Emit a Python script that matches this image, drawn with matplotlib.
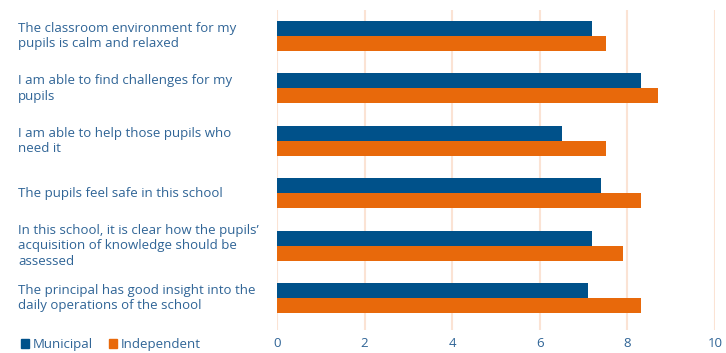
import matplotlib.pyplot as plt
import matplotlib.transforms as mtransforms
from matplotlib.patches import Patch
import numpy as np

plt.rcParams['font.family'] = ['Open Sans', 'DejaVu Sans']

statements = [
    'The classroom environment for my\npupils is calm and relaxed',
    'I am able to find challenges for my\npupils',
    'I am able to help those pupils who\nneed it',
    'The pupils feel safe in this school',
    "In this school, it is clear how the pupils\u2019\nacquisition of knowledge should be\nassessed",
    'The principal has good insight into the\ndaily operations of the school',
]
municipal = [7.2, 8.3, 6.5, 7.4, 7.2, 7.1]
independent = [7.5, 8.7, 7.5, 8.3, 7.9, 8.3]
xticks = [0, 2, 4, 6, 8, 10]

blue = '#00518A'
orange = '#E8690B'
text_col = '#2F6496'
grid_col = '#FBE3D4'

fig = plt.figure(figsize=(7.26, 3.53), dpi=100)
ax = fig.add_axes([277 / 726, 1 - 330 / 353, 438 / 726, 320 / 353])

y = np.arange(len(statements))
h = 0.287
ax.barh(y - h / 2, municipal, height=h, color=blue, zorder=3)
ax.barh(y + h / 2, independent, height=h, color=orange, zorder=3)

ax.set_xlim(0, 10)
ax.set_ylim(5.61, -0.496)
ax.set_xticks(xticks)
ax.set_xticklabels([str(t) for t in xticks])
ax.set_yticks([])
ax.tick_params(axis='x', length=0, pad=5, labelsize=9.5, labelcolor=text_col)
for s in ax.spines.values():
    s.set_visible(False)
ax.grid(axis='x', color=grid_col, linewidth=1.5, zorder=0)

trans = mtransforms.blended_transform_factory(fig.transFigure, ax.transData)
for yi, lab in zip(y, statements):
    ax.text(18 / 726, yi, lab, transform=trans, ha='left', va='center',
            fontsize=9.5, color=text_col, linespacing=1.25)

handles = [Patch(color=blue, label='Municipal'), Patch(color=orange, label='Independent')]
fig.legend(handles=handles, loc='lower left', bbox_to_anchor=(0.012, -0.028), ncol=2,
           frameon=False, handlelength=0.62, handleheight=0.62, handletextpad=0.3,
           columnspacing=1.2, fontsize=9.5, labelcolor=text_col)

fig.savefig('out.png', dpi=100)
